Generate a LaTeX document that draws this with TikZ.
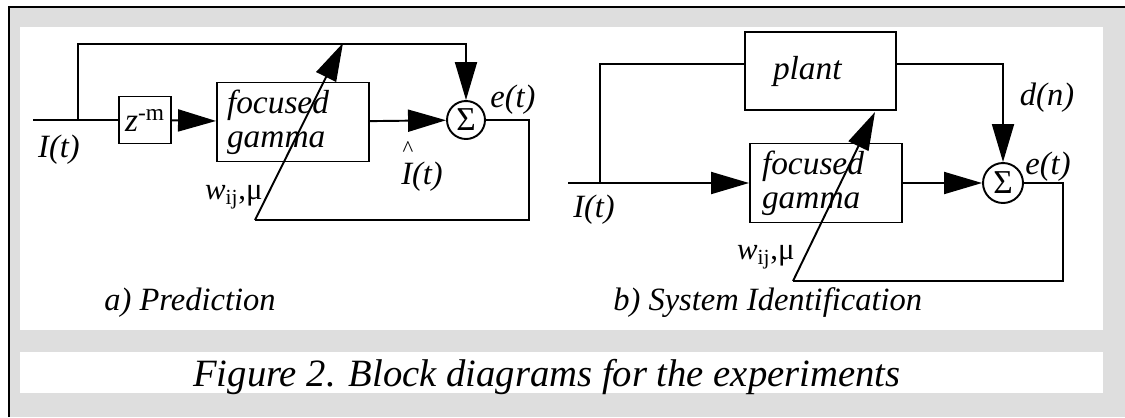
\documentclass[tikz,border=0pt]{standalone}
\usepackage{fontspec}
\setmainfont{Liberation Serif}
\definecolor{Halftone}{gray}{0.87}
\usetikzlibrary{arrows.meta,positioning}

\begin{document}
\begin{tikzpicture}[
  x=0.02cm,y=-0.02cm,
  block/.style={draw,line width=1.1pt,inner ysep=0pt,minimum height=1.58cm,align=left,
    font=\fontsize{19}{19.5}\selectfont\itshape},
  summer/.style={draw,circle,line width=1.1pt,minimum size=0.76cm,inner sep=0pt,
    font=\fontsize{19}{19}\selectfont},
  lbl/.style={inner sep=0pt,font=\fontsize{18.5}{20}\selectfont\itshape},
  wlbl/.style={lbl,anchor=east,font=\fontsize{17.5}{19}\selectfont},
  sub/.style={lbl,anchor=base west,font=\fontsize{18.5}{20}\selectfont\itshape},
  wire/.style={line width=1.1pt},
  arr/.style={wire,-{Triangle[length=0.76cm,width=0.44cm]}}
]
\useasboundingbox (0,0) rectangle (1125,417);
\fill[Halftone] (9,7) rectangle (1125,417);
\fill[white] (20,27) rectangle (1103,330);
\fill[white] (20,352) rectangle (1103,393);
\draw[line width=1pt] (9,417) -- (9,7) -- (1125,7);

\node[block,minimum width=1.04cm,minimum height=0.94cm,inner xsep=0pt,align=center,
  font=\fontsize{19}{19}\selectfont] (zdelay) at (145,120) {\textit{z}\textsuperscript{-m}};
\node[block,minimum width=3.04cm,inner xsep=0.2cm,text width=2.64cm] (gammaA) at (293,122) {focused\\gamma};
\node[summer] (sumA) at (466,120) {Σ};
\coordinate (inA) at (33,120);
\coordinate (tapA) at (78,120);
\coordinate (topA) at (78,44);
\coordinate (backA) at (529,220);
\coordinate (wA) at (255,220);
\coordinate (tipA) at (343,43);
\draw[wire] (inA) -- (zdelay);
\draw[arr] (zdelay) -- (gammaA);
\draw[arr] (gammaA) -- (sumA);
\draw[arr] (tapA) -- (topA) -| (sumA);
\draw[wire] (sumA) -| (backA) -- (wA);
\draw[arr] (wA) -- (tipA);
\node[lbl] (itA) at (59,150) {I(t)};
\node[lbl] (ihat) at (422,177) {I(t)};
\node[lbl,anchor=base,font=\fontsize{13}{13}\selectfont] (caret) at (408,156) {\textasciicircum};
\node[lbl] (etA) at (513,100) {e(t)};
\node[wlbl] (wmuA) at (263,197) {\textit{w}\textsubscript{ij},μ};
\node[sub] (capA) at (104,310) {a) Prediction};

\node[block,minimum width=3.02cm,minimum height=1.56cm,inner xsep=0.56cm,text width=1.9cm] (plant) at (820.5,71) {plant};
\node[block,minimum width=3.04cm,inner xsep=0.24cm,text width=2.56cm] (gammaB) at (826,183) {focused\\gamma};
\node[summer,minimum size=0.8cm] (sumB) at (1003,183) {Σ};
\coordinate (inB) at (568,183);
\coordinate (tapB) at (600,183);
\coordinate (topB) at (600,64);
\coordinate (backB) at (1063,281);
\coordinate (wB) at (793,281);
\coordinate (tipB) at (875,112);
\draw[arr] (inB) -- (gammaB);
\draw[wire] (tapB) -- (topB) -- (topB -| plant.west);
\draw[arr] (topB -| plant.east) -| (sumB);
\draw[arr] (gammaB) -- (sumB);
\draw[wire] (sumB) -| (backB) -- (wB);
\draw[arr] (wB) -- (tipB);
\node[lbl] (itB) at (594,210) {I(t)};
\node[lbl] (dn) at (1047,98) {d(n)};
\node[lbl] (etB) at (1048,167) {e(t)};
\node[wlbl] (wmuB) at (795,257) {\textit{w}\textsubscript{ij},μ};
\node[sub] (capB) at (613,310) {b) System Identification};

\node[sub,font=\fontsize{22}{24}\selectfont\itshape] (figcap) at (193,386) {Figure 2. Block diagrams for the experiments};
\end{tikzpicture}
\end{document}
